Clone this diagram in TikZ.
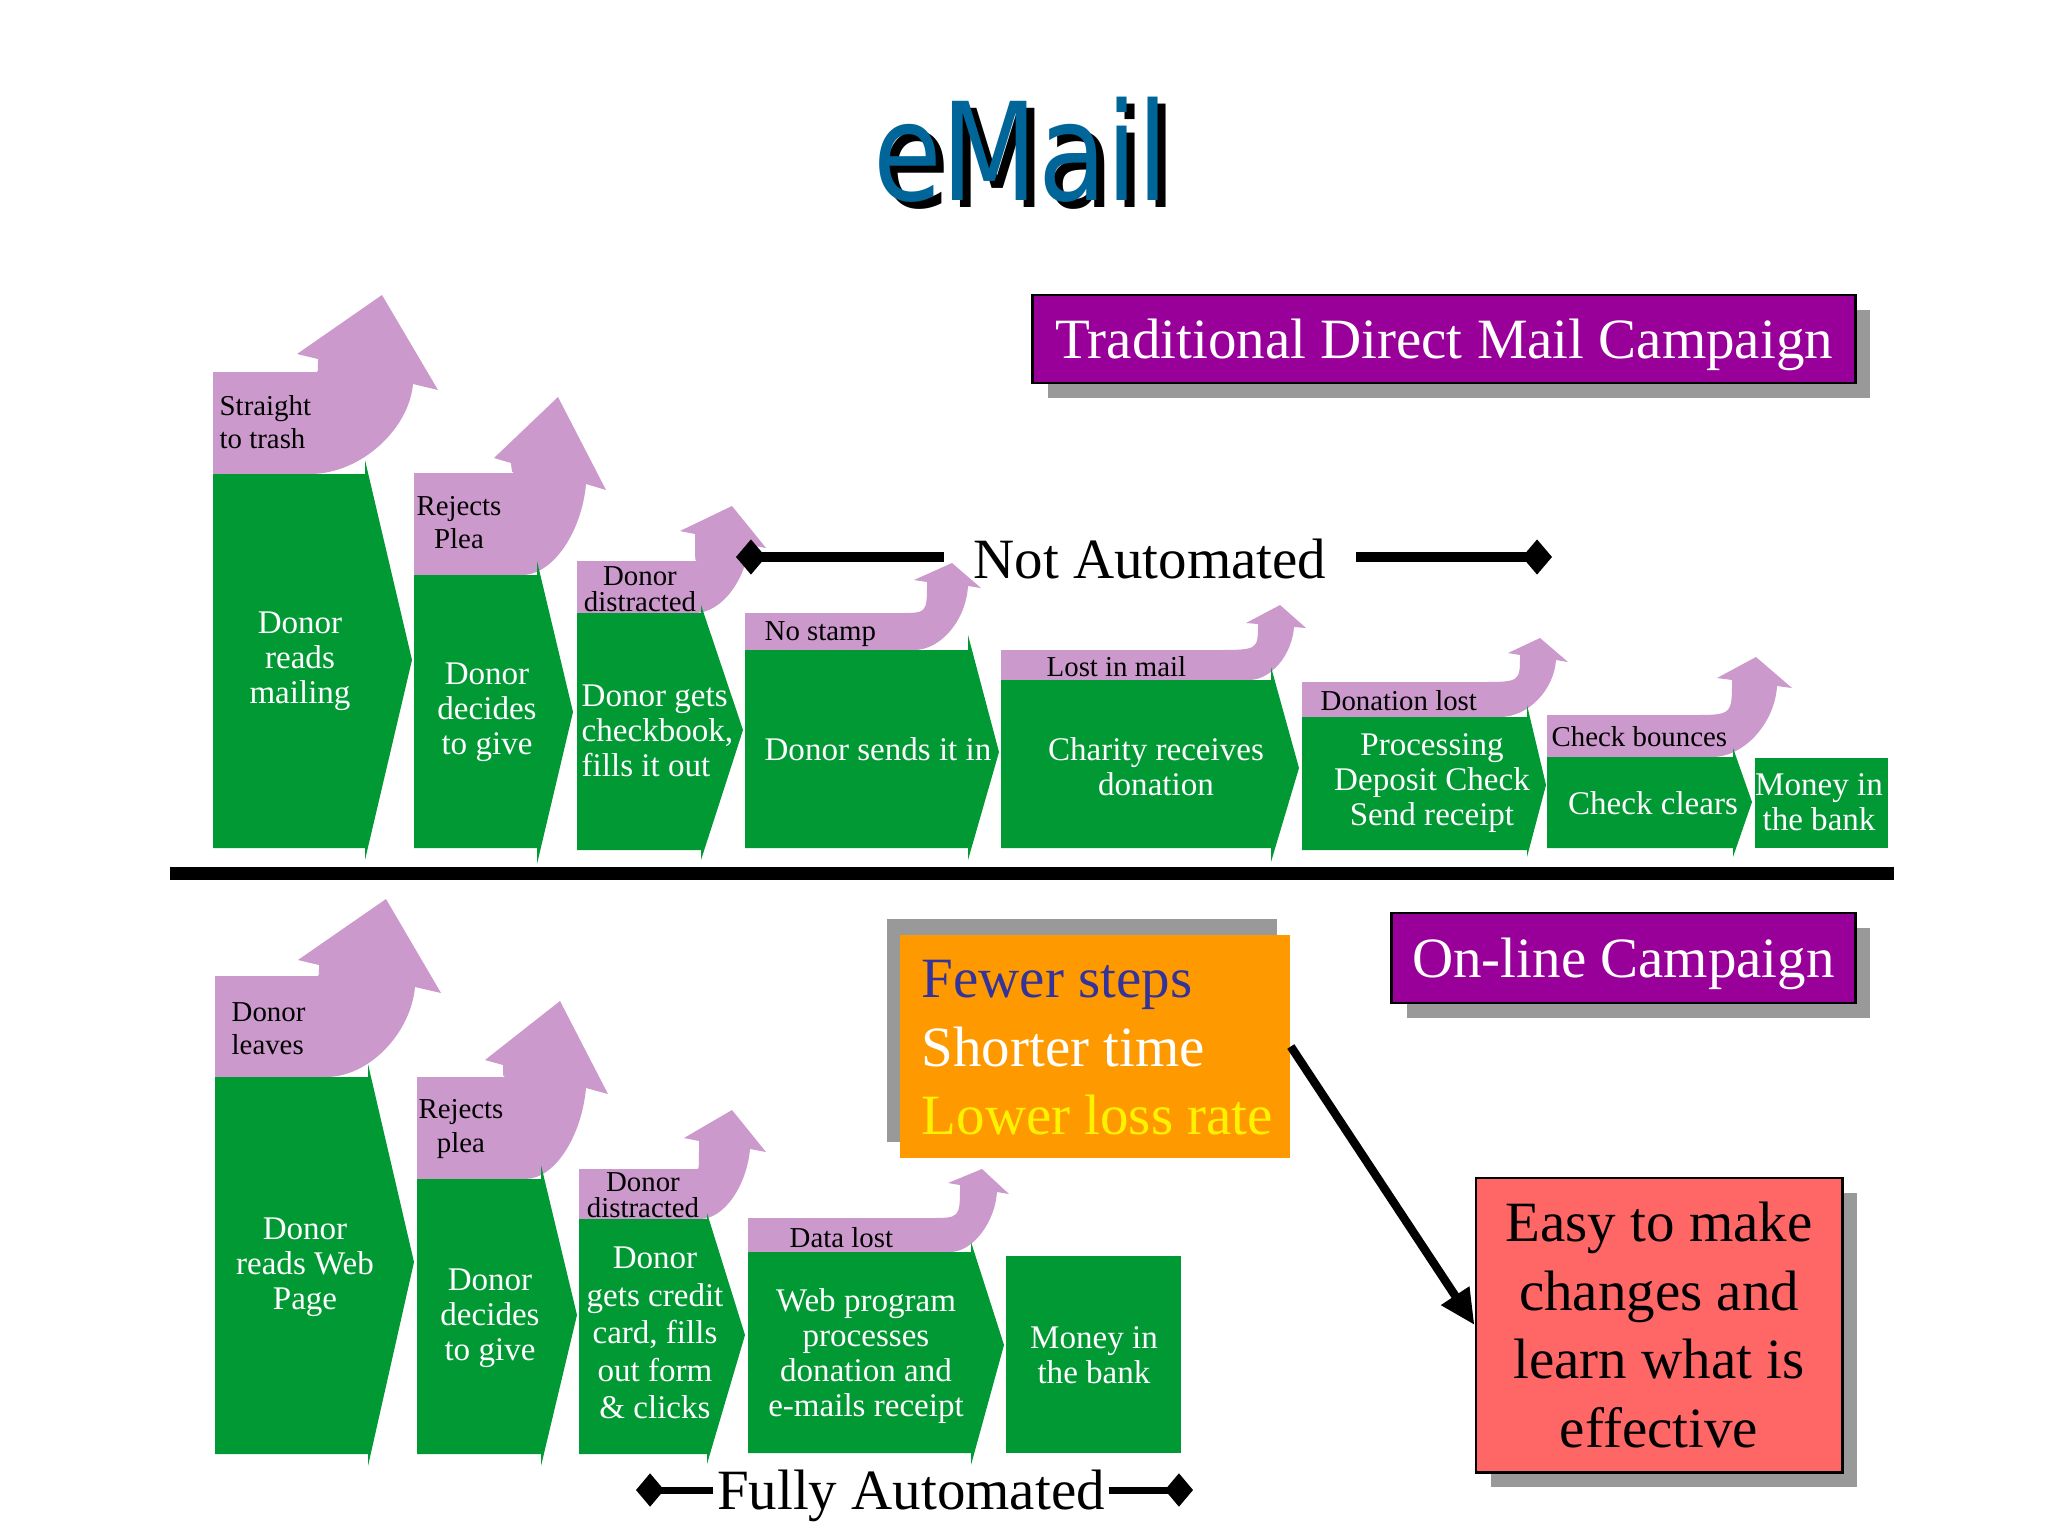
\documentclass[tikz,border=0pt]{standalone}
\usepackage{fontspec}
\usepackage{graphicx}
\setmainfont{Liberation Serif}
\newfontfamily\titlefont{DejaVu Sans}
\usetikzlibrary{arrows.meta,shadows}
\definecolor{grn}{RGB}{0,153,51}
\definecolor{lilac}{RGB}{204,153,204}
\definecolor{boxpurple}{RGB}{153,0,153}
\definecolor{shadowgray}{RGB}{153,153,153}
\definecolor{orangebox}{RGB}{255,153,0}
\definecolor{redbox}{RGB}{255,102,102}
\definecolor{fewer}{RGB}{51,51,153}
\definecolor{titleblue}{RGB}{0,102,153}
\newcommand{\greenchev}[8]{\fill[grn] (#1,#2) -- (#3,#2) -- (#3,#4) -- (#5,#6) -- (#3,#7) -- (#3,#8) -- (#1,#8) -- cycle;}
\newcommand{\mailword}{\scalebox{0.82}[1]{eMail}}
\begin{document}
\begin{tikzpicture}[x=0.01cm,y=-0.01cm,
  gtext/.style={text=white, align=center, inner sep=0pt, font=\fontsize{9.4}{9.9}\selectfont},
  ptext/.style={text=black, align=center, inner sep=0pt, font=\fontsize{8.2}{9.4}\selectfont},
  bigtext/.style={font=\fontsize{16.2}{19.5}\selectfont, inner sep=0pt},
  titlestyle/.style={font=\titlefont\fontsize{38.7}{42}\selectfont, inner sep=0pt},
  boxshadow/.style={drop shadow={shadow xshift=0.15cm, shadow yshift=-0.15cm, fill=shadowgray, opacity=1}},
  purpbox/.style={bigtext, fill=boxpurple, draw=black, line width=0.8pt, text=white, text depth=0pt, boxshadow},
  notbar/.style={line width=2.85pt, -{Diamond[length=8.5pt,width=10pt]}},
  fullbar/.style={line width=2pt, -{Diamond[length=8pt,width=9.5pt]}},
  bigarrow/.style={line width=2.4pt, -{Triangle[length=10pt,width=9pt]}}
]
\useasboundingbox (0,0) rectangle (2048,1536);
\fill[white] (0,0) rectangle (2048,1536);

% title with its black shadow
\node[titlestyle, anchor=base] (email) at (1021,200)
  {\rlap{\hspace{0.08cm}\raisebox{-0.07cm}{\textcolor{black}{\mailword}}}\textcolor{titleblue}{\mailword}};

% ---------- top row: purple loss arrows ----------
\fill[lilac] (213,474) -- (213,372) -- (317,372) .. controls (318,372) .. (318,359) -- (297,354) -- (382,295) -- (438,390) -- (413,384) .. controls (409,429) and (361,474) .. (310,474) -- cycle;
\fill[lilac] (414,575) -- (414,473) -- (514,473) .. controls (512,473) .. (511,463) -- (494,458) -- (558,397) -- (606,490) -- (586,484) .. controls (582,530) and (554,575) .. (522,575) -- cycle;
\fill[lilac] (577,613) -- (577,561) -- (697,561) .. controls (695,561) .. (695,534) -- (680,531) -- (732,506) -- (766,548) -- (749,545) .. controls (746,579) and (722,613) .. (695,613) -- cycle;
\fill[lilac] (745,650) -- (745,613) -- (900,613) .. controls (927,613) .. (927,582) -- (914,580) -- (952,563) -- (981,588) -- (968,586) .. controls (966,620) and (941,650) .. (914,650) -- cycle;
\fill[lilac] (1001,680) -- (1001,650) -- (1215,650) .. controls (1258,650) .. (1258,624) -- (1246,623) -- (1280,605) -- (1306,628) -- (1294,627) .. controls (1292,655) and (1271,680) .. (1249,680) -- cycle;
\fill[lilac] (1302,717) -- (1302,682) -- (1480,682) .. controls (1520,682) .. (1520,655) -- (1508,653) -- (1540,638) -- (1568,662) -- (1556,660) .. controls (1554,690) and (1528,717) .. (1500,717) -- cycle;
\fill[lilac] (1547,757) -- (1547,715) -- (1692,715) .. controls (1732,715) .. (1732,680) -- (1717,678) -- (1756,657) -- (1792,688) -- (1777,686) .. controls (1775,722) and (1745,757) .. (1712,757) -- cycle;

% ---------- top row: green steps ----------
\greenchev{213}{474}{365}{460}{412}{660}{860}{848}
\greenchev{414}{575}{537}{561}{573}{712}{864}{848}
\greenchev{577}{613}{701}{605}{743}{730}{860}{850}
\greenchev{745}{650}{968}{635}{999}{752}{860}{848}
\greenchev{1001}{680}{1271}{667}{1299}{768}{862}{848}
\greenchev{1302}{717}{1527}{705}{1546}{785}{857}{850}
\greenchev{1547}{757}{1733}{748}{1752}{802}{857}{848}
\fill[grn] (1755,758) rectangle (1888,848);

% top row texts
\node[gtext] (t1) at (300,661) {Donor\\reads\\mailing};
\node[gtext] (t2) at (487,712) {Donor\\decides\\to give};
\node[gtext, align=left, anchor=west] (t3) at (581,731) {Donor gets\\checkbook,\\fills it out};
\node[gtext] (t4) at (878,749) {Donor sends it in};
\node[gtext] (t5) at (1156,767) {Charity receives\\donation};
\node[gtext] (t6) at (1432,783) {Processing\\Deposit Check\\Send receipt};
\node[gtext] (t7) at (1653,803) {Check clears};
\node[gtext] (t8) at (1819,802) {Money in\\the bank};

\node[ptext, align=left, anchor=west] (p1) at (219,422) {Straight\\to trash};
\node[ptext] (p2) at (459,523) {Rejects\\Plea};
\node[ptext, font=\fontsize{8.2}{7.4}\selectfont] (p3) at (640,589) {Donor\\distracted};
\node[ptext, anchor=west] (p4) at (764,634) {No stamp};
\node[ptext, anchor=west] (p5) at (1046,667) {Lost in mail};
\node[ptext, anchor=west] (p6) at (1320,701) {Donation lost};
\node[ptext, anchor=west] (p7) at (1551,737) {Check bounces};

% Not Automated
\node[bigtext, inner xsep=0.29cm] (na) at (1150,559) {Not Automated};
\coordinate (naL) at (736,557);
\coordinate (naR) at (1552,557);
\draw[notbar] (na.west |- naL) -- (naL);
\draw[notbar] (na.east |- naR) -- (naR);

% Traditional box
\node[purpbox, minimum width=8.22cm, minimum height=0.88cm] (tdm) at (1444,339) {Traditional Direct Mail Campaign};

% separator
\coordinate (sepL) at (170,873);
\coordinate (sepR) at (1894,873);
\draw[line width=3.7pt] (sepL) -- (sepR);

% ---------- bottom row: purple loss arrows ----------
\fill[lilac] (215,1077) -- (215,976) -- (318,976) .. controls (319,976) .. (319,965) -- (298,960) -- (386,899) -- (441,993) -- (415,987) .. controls (411,1032) and (370,1077) .. (326,1077) -- cycle;
\fill[lilac] (417,1179) -- (417,1077) -- (505,1077) .. controls (503,1077) .. (503,1065) -- (485,1060) -- (560,1001) -- (608,1094) -- (586,1088) .. controls (582,1134) and (556,1179) .. (525,1179) -- cycle;
\fill[lilac] (579,1219) -- (579,1169) -- (697,1169) .. controls (699,1169) .. (699,1141) -- (684,1138) -- (732,1110) -- (766,1152) -- (750,1149) .. controls (747,1184) and (725,1219) .. (700,1219) -- cycle;
\fill[lilac] (748,1252) -- (748,1218) -- (930,1218) .. controls (960,1218) .. (960,1185) -- (948,1183) -- (982,1169) -- (1009,1194) -- (997,1192) .. controls (995,1222) and (973,1252) .. (950,1252) -- cycle;

% ---------- bottom row: green steps ----------
\greenchev{215}{1077}{368}{1064}{414}{1262}{1466}{1454}
\greenchev{417}{1179}{541}{1165}{577}{1315}{1466}{1454}
\greenchev{579}{1219}{707}{1213}{745}{1335}{1464}{1454}
\greenchev{748}{1252}{971}{1242}{1004}{1345}{1465}{1453}
\fill[grn] (1006,1256) rectangle (1181,1453);

\node[gtext] (u1) at (305,1267) {Donor\\reads Web\\Page};
\node[gtext] (u2) at (490,1318) {Donor\\decides\\to give};
\node[gtext, font=\fontsize{9.4}{10.7}\selectfont] (u3) at (655,1333) {Donor\\gets credit\\card, fills\\out form\\\& clicks};
\node[gtext] (u4) at (866,1356) {Web program\\processes\\donation and\\e-mails receipt};
\node[gtext] (u5) at (1094,1355) {Money in\\the bank};

\node[ptext, align=left, anchor=west] (q1) at (231,1029) {Donor\\leaves};
\node[ptext] (q2) at (461,1129) {Rejects\\plea};
\node[ptext, font=\fontsize{8.2}{7.4}\selectfont] (q3) at (643,1195) {Donor\\distracted};
\node[ptext, anchor=west] (q4) at (789,1238) {Data lost};

% Fully Automated
\node[bigtext, inner xsep=0.03cm] (fa) at (911,1496) {Fully Automated};
\coordinate (faL) at (636,1490);
\coordinate (faR) at (1193,1490);
\draw[fullbar] (fa.west |- faL) -- (faL);
\draw[fullbar] (fa.east |- faR) -- (faR);

% On-line box
\node[purpbox, minimum width=4.63cm, minimum height=0.9cm] (olc) at (1623.5,958) {On-line Campaign};

% orange advantages box
\node[fill=orangebox, minimum width=3.9cm, minimum height=2.23cm, inner sep=0pt,
  drop shadow={shadow xshift=-0.13cm, shadow yshift=0.16cm, fill=shadowgray, opacity=1}] (adv) at (1095,1046.5) {};
\node[bigtext, align=left, anchor=west] (advtext) at (921,1048)
  {\textcolor{fewer}{Fewer steps}\\\textcolor{white}{Shorter time}\\\textcolor{yellow}{Lower loss rate}};

% red box
\node[bigtext, fill=redbox, draw=black, line width=0.8pt, minimum width=3.66cm, minimum height=2.94cm, align=center, boxshadow] (easy) at (1659,1325)
  {Easy to make\\changes and\\learn what is\\effective};

\draw[bigarrow] (adv.east) -- (easy.west);
\end{tikzpicture}
\end{document}
